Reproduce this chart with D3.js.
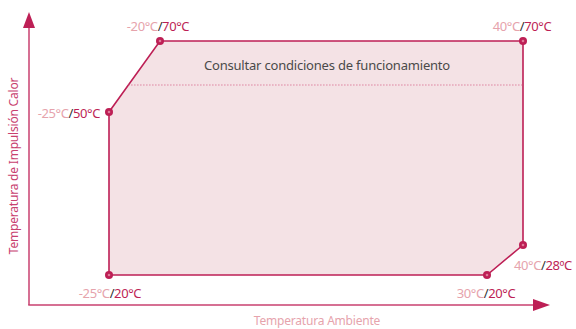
<!DOCTYPE html>
<html><head><meta charset="utf-8">
<script src="https://cdn.jsdelivr.net/npm/d3@7"></script>
<style>body{margin:0;background:#fff}svg{display:block}text{font-family:"Noto Sans",sans-serif}</style>
</head><body>
<script>
// Data
const ambientTemps = [-25, -20, 40, 40, 30, -25];
const supplyTemps  = [50, 70, 70, 28, 20, 20];
const xBreaks = [-25, -20, 30, 40];
const yBreaks = [20, 28, 50, 70];
const consultLimit = 57.6;
const consultText = "Consultar condiciones de funcionamiento";
const xTitle = "Temperatura Ambiente";
const yTitle = "Temperatura de Impulsión Calor";
const labelA = ["-25°C","-20°C","40°C","40°C","30°C","-25°C"];
const labelB = ["50°C","70°C","70°C","28ºC","20°C","20°C"];

const W = 576, H = 329;
const svg = d3.select("body").append("svg").attr("width", W).attr("height", H);

const x = d3.scaleLinear().domain(xBreaks).range([109, 160, 487, 523]);
const y = d3.scaleLinear().domain(yBreaks).range([275, 245, 112, 41]);

const crimson = "#bd1f55", axisCol = "#c8416f", lightPink = "#e6a3ac";

const pts = ambientTemps.map((a, i) => ({a, s: supplyTemps[i], la: labelA[i], lb: labelB[i]}));

// Polygon
svg.append("path")
  .attr("d", d3.line().x(d => x(d.a)).y(d => y(d.s)).curve(d3.curveLinearClosed)(pts))
  .attr("fill", "#f4e2e5").attr("stroke", crimson).attr("stroke-width", 1.6);

// Dotted line: from slanted edge to right edge
const p0 = pts[0], p1 = pts[1];
const t = (consultLimit - p0.s) / (p1.s - p0.s);
const xStart = x(p0.a) + t * (x(p1.a) - x(p0.a));
svg.append("line")
  .attr("x1", xStart).attr("x2", x(40)).attr("y1", y(consultLimit)).attr("y2", y(consultLimit))
  .attr("stroke", "#d2527c").attr("stroke-width", 1.2).attr("stroke-dasharray", "1,2");

svg.append("text").attr("x", 327).attr("y", 70).attr("text-anchor", "middle")
  .attr("font-size", 13).attr("fill", "#4a4a4a").attr("letter-spacing", -0.2).text(consultText);

// Axes
const ax = 29, ay = 305;
svg.append("line").attr("x1", ax).attr("x2", ax).attr("y1", 27).attr("y2", ay)
  .attr("stroke", axisCol).attr("stroke-width", 1.5);
svg.append("line").attr("x1", ax - 0.75).attr("x2", 535).attr("y1", ay).attr("y2", ay)
  .attr("stroke", axisCol).attr("stroke-width", 1.5);
svg.append("path").attr("d", `M${ax},12 L${ax-6},28 L${ax+6},28 Z`).attr("fill", crimson);
svg.append("path").attr("d", `M550,${ay} L533,${ay-6} L533,${ay+6} Z`).attr("fill", crimson);

svg.append("text").attr("x", 317).attr("y", 325).attr("text-anchor", "middle")
  .attr("font-size", 12).attr("fill", lightPink).attr("letter-spacing", -0.2).text(xTitle);
svg.append("text").attr("transform", "translate(18,166) rotate(-90)").attr("text-anchor", "middle")
  .attr("font-size", 12).attr("fill", "#c8416f").attr("letter-spacing", -0.2).text(yTitle);

// Markers
const mk = svg.selectAll("g.mk").data(pts).join("g").attr("class", "mk")
  .attr("transform", d => `translate(${x(d.a)},${y(d.s)})`);
mk.append("circle").attr("r", 4).attr("fill", crimson);
mk.append("circle").attr("r", 1.3).attr("fill", "#e07a98");

// Labels
const offs = [
  {dx: -9, dy: 6, anchor: "end"},
  {dx: -2, dy: -10, anchor: "middle"},
  {dx: -1, dy: -10, anchor: "middle"},
  {dx: -9, dy: 25, anchor: "start"},
  {dx: -1, dy: 23, anchor: "middle"},
  {dx: 1, dy: 23, anchor: "middle"}
];
const lbl = svg.selectAll("text.pl").data(pts).join("text").attr("class", "pl")
  .attr("x", (d, i) => x(d.a) + offs[i].dx).attr("y", (d, i) => y(d.s) + offs[i].dy)
  .attr("text-anchor", (d, i) => offs[i].anchor).attr("font-size", 13).attr("letter-spacing", -0.4);
lbl.append("tspan").attr("fill", lightPink).text(d => d.la);
lbl.append("tspan").attr("fill", "#333").text("/");
lbl.append("tspan").attr("fill", crimson).text(d => d.lb);
</script>
</body></html>
